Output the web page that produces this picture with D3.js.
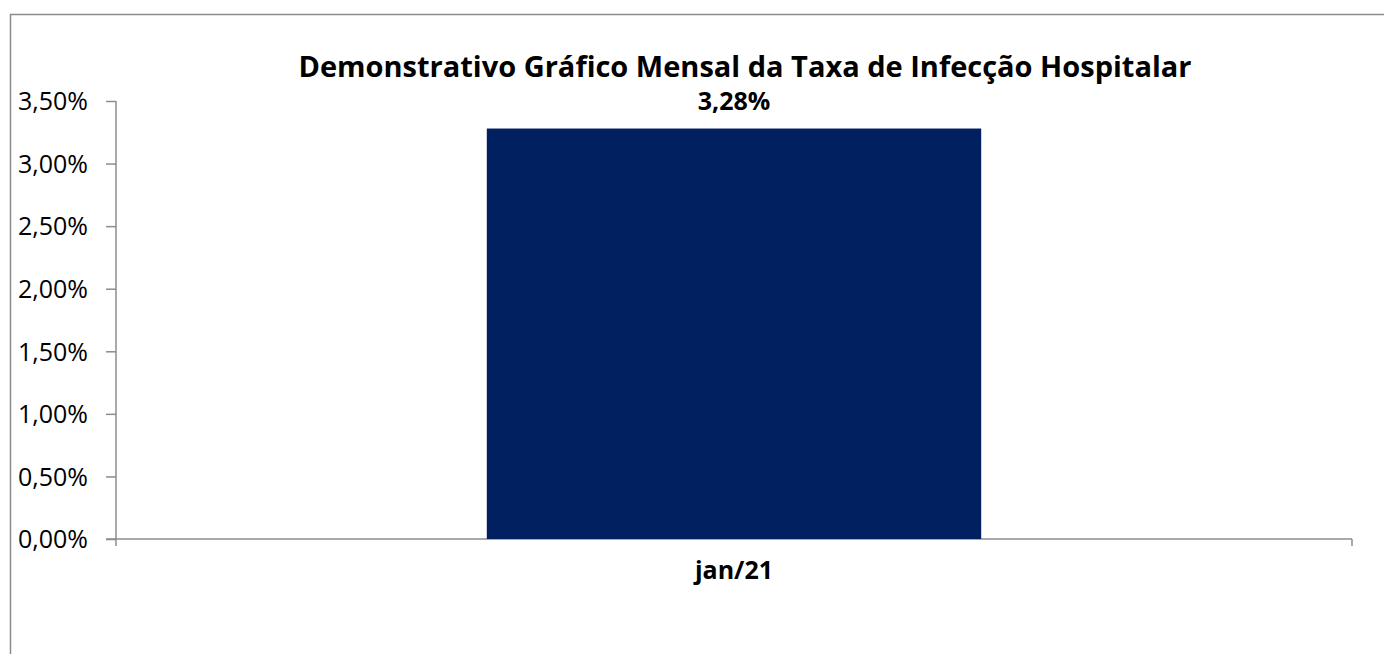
<!DOCTYPE html>
<html>
<head>
<meta charset="utf-8">
<script src="https://cdn.jsdelivr.net/npm/d3@7"></script>
<style>
  body { margin: 0; background: #fff; }
  svg { display: block; font-family: "Open Sans", "Noto Sans", sans-serif; }
</style>
</head>
<body>
<svg id="chart" width="1384" height="654"></svg>
<script>
/* DATA */
var categories = ["jan/21"];
var values = [3.28];
var yTicks = [0, 0.5, 1, 1.5, 2, 2.5, 3, 3.5];
var title = "Demonstrativo Gráfico Mensal da Taxa de Infecção Hospitalar";

var svg = d3.select("#chart");

/* OUTER FRAME (RUNS OFF RIGHT AND BOTTOM) */
svg.append("rect")
  .attr("x", 10.5).attr("y", 14.5)
  .attr("width", 1400).attr("height", 700)
  .attr("fill", "none").attr("stroke", "#8c8c8c").attr("stroke-width", 1.5);

var plot = { left: 116, right: 1352, top: 101, bottom: 539 };

// gap width 150% -> bar takes 40% of the category slot
var x = d3.scaleBand().domain(categories)
  .range([plot.left, plot.right]).paddingInner(0.6).paddingOuter(0.3);
var y = d3.scaleLinear().domain([0, 3.5]).range([plot.bottom, plot.top]);

var fmt = function(v) { return v.toFixed(2).replace(".", ",") + "%"; };

/* Y AXIS */
var yAxis = svg.append("g")
  .attr("transform", "translate(" + plot.left + ",0)")
  .call(d3.axisLeft(y).tickValues(yTicks).tickFormat(fmt).tickSize(10).tickSizeOuter(0));
yAxis.select(".domain").attr("stroke", "#8c8c8c").attr("stroke-width", 1.5)
  .attr("d", "M0," + plot.top + "V" + (plot.bottom + 7));
yAxis.selectAll(".tick line").attr("stroke", "#8c8c8c").attr("stroke-width", 1.5);
yAxis.selectAll(".tick text")
  .attr("x", -28).attr("dy", "0.35em")
  .attr("font-size", 25).attr("fill", "#000")
  .attr("font-family", "Open Sans, sans-serif");

/* X AXIS */
var xAxis = svg.append("g").attr("transform", "translate(0," + plot.bottom + ")");
xAxis.append("line")
  .attr("x1", plot.left - 10).attr("x2", plot.right)
  .attr("stroke", "#8c8c8c").attr("stroke-width", 1.5);
xAxis.append("line")
  .attr("x1", plot.right).attr("x2", plot.right).attr("y1", 0).attr("y2", 7)
  .attr("stroke", "#8c8c8c").attr("stroke-width", 1.5);
xAxis.selectAll(".xlab").data(categories).enter().append("text")
  .attr("class", "xlab")
  .attr("x", function(d) { return x(d) + x.bandwidth() / 2; })
  .attr("y", 40)
  .attr("text-anchor", "middle")
  .attr("font-size", 25).attr("font-weight", "bold")
  .text(function(d) { return d; });

/* BARS */
svg.selectAll(".bar").data(values).enter().append("rect")
  .attr("class", "bar")
  .attr("x", function(d, i) { return x(categories[i]); })
  .attr("width", x.bandwidth())
  .attr("y", function(d) { return y(d); })
  .attr("height", function(d) { return y(0) - y(d); })
  .attr("fill", "#002060");

/* VALUE LABELS */
svg.selectAll(".val").data(values).enter().append("text")
  .attr("class", "val")
  .attr("x", function(d, i) { return x(categories[i]) + x.bandwidth() / 2; })
  .attr("y", function(d) { return y(d) - 19; })
  .attr("text-anchor", "middle")
  .attr("font-size", 25).attr("font-weight", "bold")
  .text(fmt);

/* TITLE */
svg.append("text")
  .attr("x", 745).attr("y", 77)
  .attr("text-anchor", "middle")
  .attr("font-size", 29).attr("font-weight", "bold")
  .text(title);
</script>
</body>
</html>
